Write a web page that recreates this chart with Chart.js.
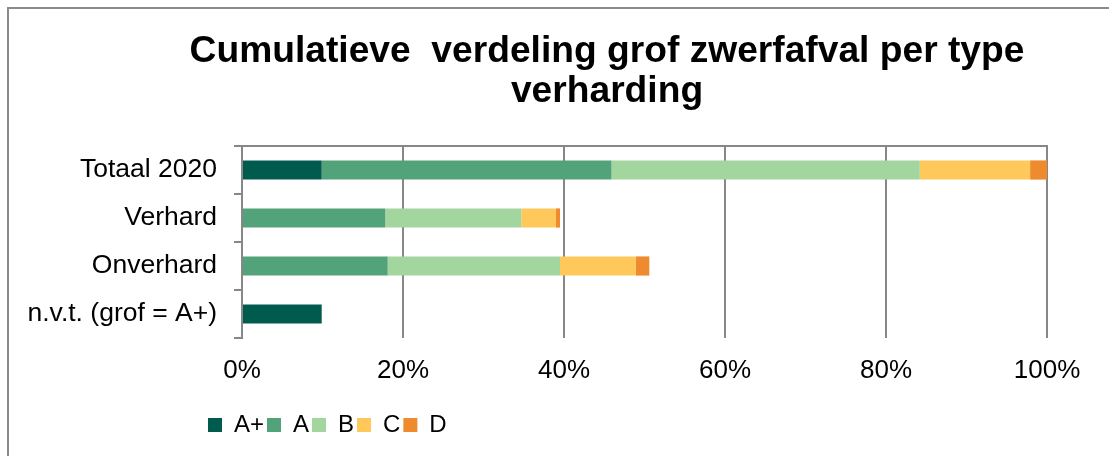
<!DOCTYPE html>
<html>
<head>
<meta charset="utf-8">
<script src="https://cdn.jsdelivr.net/npm/chart.js@4.4.0/dist/chart.umd.min.js"></script>
<style>
  html, body { margin: 0; padding: 0; background: #fff; overflow: hidden; }
  #frame { position: absolute; left: 7px; top: 7px; width: 1300px; height: 520px; border: 2px solid #8a8a8a; }
  #chart { position: absolute; left: 0; top: 0; }
</style>
</head>
<body>
<div id="frame"></div>
<canvas id="chart" width="1214" height="456"></canvas>
<script>
// categorieen en aandelen (%) per klasse
const categories = ['Totaal 2020', 'Verhard', 'Onverhard', 'n.v.t. (grof = A+)'];
const classNames = ['A+', 'A', 'B', 'C', 'D'];
const valuesAPlus = [9.9, 0, 0, 9.9];
const valuesA = [36.0, 17.8, 18.1, 0];
const valuesB = [38.3, 16.9, 21.4, 0];
const valuesC = [13.7, 4.3, 9.4, 0];
const valuesD = [2.1, 0.5, 1.7, 0];
const classColors = ['#005a4e', '#52a27a', '#a3d59e', '#fec85a', '#ee8b2f'];

const gridColor = '#878787';
const fontFamily = "'Liberation Sans', Arial, sans-serif";

const series = [valuesAPlus, valuesA, valuesB, valuesC, valuesD];

// titel over de hele kaderbreedte centreren, legenda iets links van het plotvlak
const boxShift = {
    id: 'boxShift',
    afterLayout(chart) {
        const t = chart.titleBlock;
        t.left = 0;
        t.right = chart.width;
        t.width = chart.width;

        const lg = chart.legend;
        const dx = (chart.chartArea.left - 37) - lg.left;
        lg.left += dx;
        lg.right += dx;
    }
};

new Chart(document.getElementById('chart'), {
    type: 'bar',
    data: {
        labels: categories,
        datasets: series.map((vals, i) => ({
            label: classNames[i],
            data: vals,
            backgroundColor: classColors[i],
            borderWidth: 0,
            barPercentage: 0.4,
            categoryPercentage: 1
        }))
    },
    plugins: [boxShift],
    options: {
        indexAxis: 'y',
        responsive: false,
        animation: false,
        layout: { padding: { left: 0, right: 167, top: 0, bottom: 9 } },
        scales: {
            x: {
                stacked: true,
                min: 0,
                max: 100,
                ticks: {
                    stepSize: 20,
                    padding: 17,
                    color: '#000',
                    font: { family: fontFamily, size: 26 },
                    callback: v => v + '%'
                },
                grid: { color: gridColor, lineWidth: 2, drawTicks: false },
                border: { display: false },
                afterFit(scale) { scale.height = 72; }
            },
            x2: {
                type: 'linear',
                position: 'top',
                display: true,
                min: 0,
                max: 100,
                ticks: { display: false },
                grid: { display: false, drawTicks: false },
                border: { display: true, color: gridColor, width: 2 }
            },
            y: {
                stacked: true,
                ticks: {
                    padding: 17,
                    color: '#000',
                    font: { family: fontFamily, size: 26.5 }
                },
                grid: { color: gridColor, lineWidth: 2, drawOnChartArea: false, tickLength: 8 },
                border: { display: true, color: gridColor, width: 2 },
                afterFit(scale) { scale.width = 242; }
            }
        },
        plugins: {
            title: {
                display: true,
                text: ['Cumulatieve  verdeling grof zwerfafval per type', 'verharding'],
                color: '#000',
                font: { family: fontFamily, size: 37.2, weight: 'bold', lineHeight: 1.062 },
                padding: { top: 32, bottom: 35 }
            },
            legend: {
                position: 'bottom',
                align: 'start',
                labels: {
                    boxWidth: 14,
                    boxHeight: 14,
                    padding: 3,
                    color: '#000',
                    font: { family: fontFamily, size: 24 }
                }
            },
            tooltip: { enabled: false }
        }
    }
});
</script>
</body>
</html>
